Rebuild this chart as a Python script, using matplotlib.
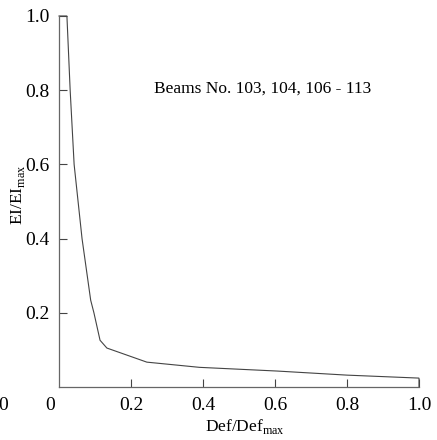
import matplotlib
matplotlib.use("Agg")
import matplotlib.pyplot as plt

# Data
def_ratio = [0.0, 0.022, 0.031, 0.042, 0.064, 0.088, 0.097, 0.114, 0.133, 0.244, 0.39, 0.606, 0.80, 1.0, 1.0]
ei_ratio = [1.0, 1.0, 0.80, 0.60, 0.40, 0.234, 0.20, 0.126, 0.105, 0.067, 0.053, 0.043, 0.032, 0.024, 0.0]
x_ticks = [0.2, 0.4, 0.6, 0.8, 1.0]
x_tick_labels = ["0.2", "0.4", "0.6", "0.8", "1.0"]
y_ticks = [0.2, 0.4, 0.6, 0.8, 1.0]
y_tick_labels = ["0.2", "0.4", "0.6", "0.8", "1.0"]
annotation = "Beams No. 103, 104, 106 - 113"

plt.rcParams['font.family'] = ['Liberation Serif', 'DejaVu Serif']
plt.rcParams['mathtext.fontset'] = 'custom'
plt.rcParams['mathtext.rm'] = 'Liberation Serif'
W, H = 437, 440
fig = plt.figure(figsize=(W / 100, H / 100), dpi=100)
ax = fig.add_axes([59 / W, (H - 387) / H, (419 - 59) / W, (387 - 16) / H])

ax.plot(def_ratio, ei_ratio, color='#444444', lw=0.8, solid_joinstyle='miter', clip_on=False)
ax.set_xlim(0, 1.0)
ax.set_ylim(0, 1.0)
for s in ['top', 'right']:
    ax.spines[s].set_visible(False)
for s in ['left', 'bottom']:
    ax.spines[s].set_color('#666666')
    ax.spines[s].set_linewidth(0.9)

ax.set_xticks(x_ticks)
ax.set_xticklabels(x_tick_labels)
ax.set_yticks(y_ticks)
ax.set_yticklabels(y_tick_labels)
ax.tick_params(direction='in', length=6, width=0.8, color='#444444', labelsize=14, pad=7)

ax.text(-0.025, -0.05, "0", transform=ax.transData, ha='center', va='center', fontsize=14, clip_on=False)
ax.text(-0.155, -0.05, "0", transform=ax.transData, ha='center', va='center', fontsize=14, clip_on=False)

ax.text(0.265, 0.805, annotation, fontsize=12.5, ha='left', va='center')

fig.text(245 / W, 1 - 426 / H, r"Def/Def$_{\rm max}$", ha='center', va='center', fontsize=12.5)
fig.text(18 / W, 1 - 195 / H, r"EI/EI$_{\rm max}$", ha='center', va='center', fontsize=12.5, rotation=90)
fig.savefig("out.png", dpi=100)
